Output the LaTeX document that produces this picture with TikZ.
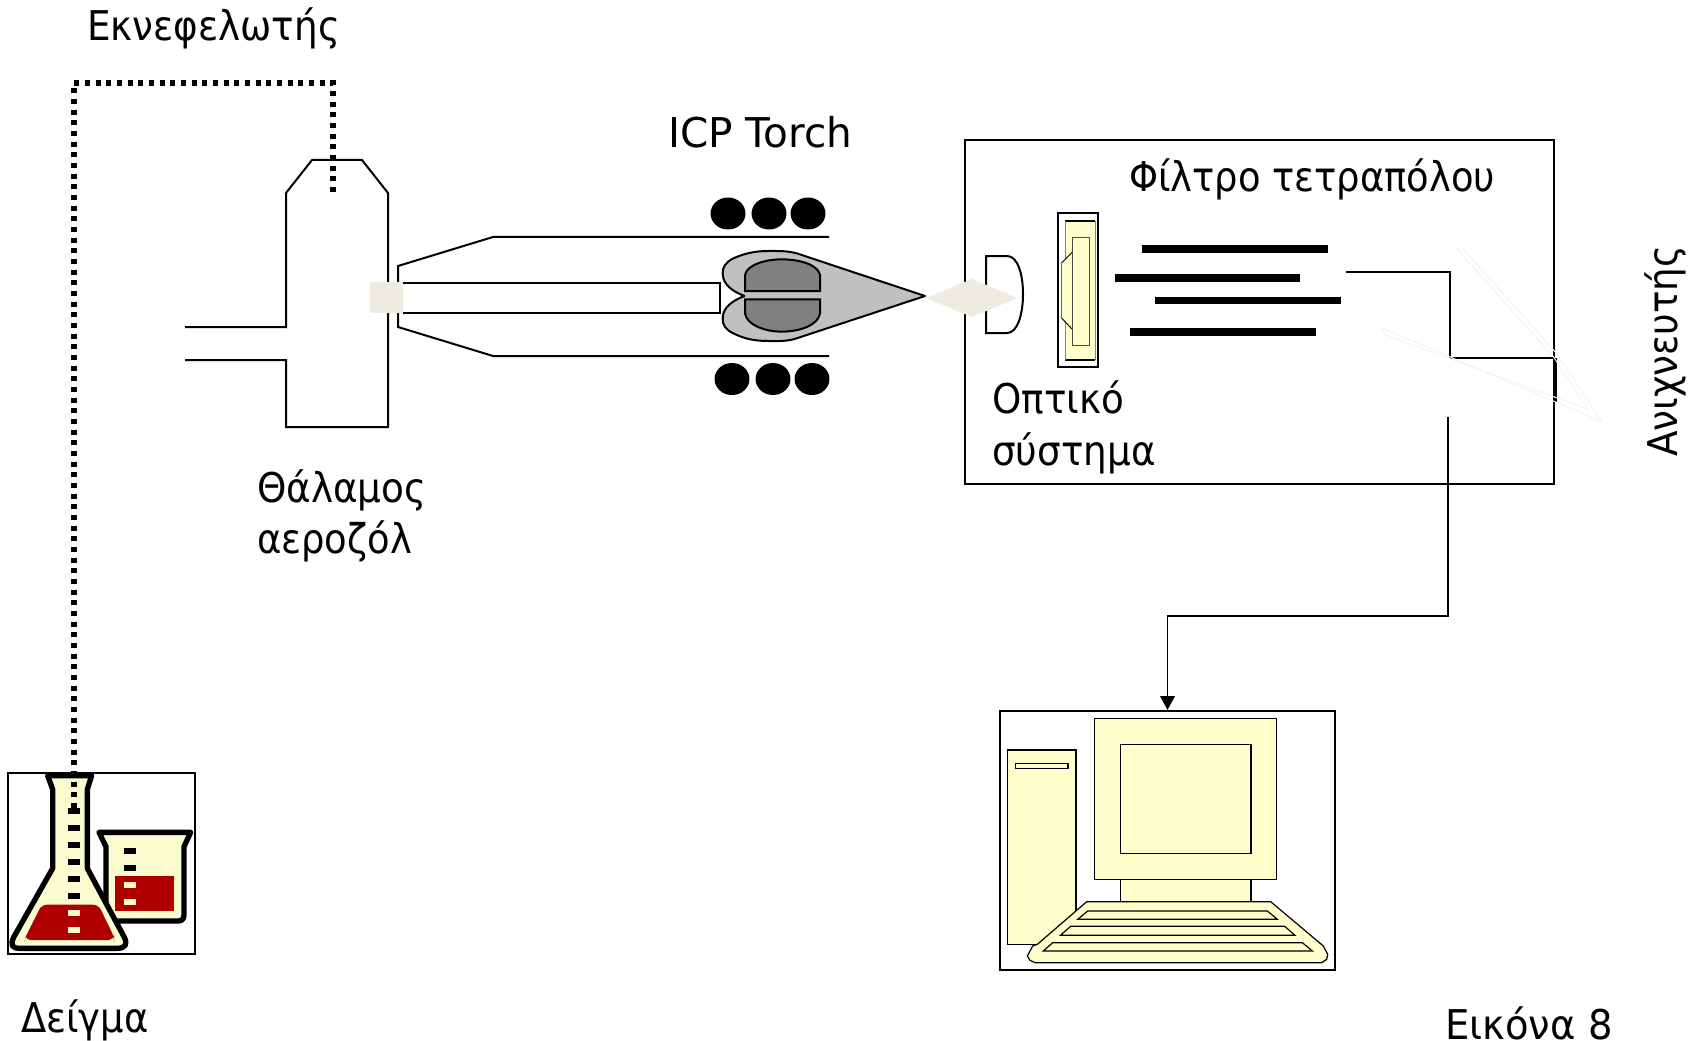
\documentclass[tikz,border=0pt]{standalone}
\usepackage{fontspec}
\setmainfont[FakeStretch=0.91]{DejaVu Sans}
\newfontfamily\widerfont[FakeStretch=0.94]{DejaVu Sans}
\newfontfamily\latinfont[FakeStretch=0.99]{DejaVu Sans}
\newfontfamily\tightfont[FakeStretch=0.90]{DejaVu Sans}
\usetikzlibrary{arrows.meta}
\definecolor{beige}{HTML}{EEECE1}
\definecolor{pale}{HTML}{FFFFCC}
\definecolor{flaskpale}{HTML}{FBFBD0}
\definecolor{liquid}{HTML}{AE0000}
\definecolor{plasma}{HTML}{C0C0C0}
\definecolor{core}{HTML}{808080}
\definecolor{faint}{HTML}{F4F4F4}
\tikzset{
  lbl/.style={anchor=base west,inner sep=0pt,font=\fontsize{30.75pt}{36pt}\selectfont},
  thin line/.style={line width=1.5pt,black},
  hair/.style={line width=1.1pt,black},
  dotline/.style={line width=4.2pt,black,dash pattern=on 3.8pt off 4.2pt},
  framebox/.style={draw=black,line width=1.5pt,fill=none,inner sep=0pt},
  bar/.style={fill=black,draw=none},
  coil/.style={fill=black,draw=none},
  part/.style={draw=black,line width=0.9pt,fill=pale},
  ghost/.style={draw=faint,line width=0.8pt},
}
\begin{document}
\begin{tikzpicture}[x=0.75pt,y=-0.75pt]
\useasboundingbox (0,0) rectangle (1701,1041);
\fill[white] (0,0) rectangle (1701,1041);

% spray chamber
\draw[thin line] (185,327)--(286,327)--(286,193)--(312,160)--(362,160)--(388,193)--(388,427)--(286,427)--(286,360)--(185,360);

% torch
\draw[thin line] (829,237)--(493,237)--(398,266)--(398,327)--(493,356)--(829,356);
\draw[thin line] (403,283)--(720,283)--(720,313)--(403,313);
\fill[beige] (370,282) rectangle (403,313);

% coils
\foreach \n/\cx/\cy in {a/728/213.5,b/769/213.5,c/808/213.5,d/732/379,e/773/379,f/812/379}
  \fill[coil] (\cx,\cy) ellipse [x radius=13.1pt,y radius=12pt];

% plasma
\begin{scope}[shift={(690,180)},x=0.25pt,y=-0.25pt]
\draw[thin line,fill=plasma,line join=round] (705,348)--(320,220)
  .. controls (290,212) and (265,213) .. (235,213)
  .. controls (190,213) and (160,222) .. (130,235)
  .. controls (105,248) and (98,262) .. (98,280)
  .. controls (98,315) and (130,335) .. (163,348)
  .. controls (130,361) and (98,381) .. (98,415)
  .. controls (98,435) and (105,448) .. (130,460)
  .. controls (160,475) and (190,483) .. (235,483)
  .. controls (265,483) and (290,485) .. (320,475)--cycle;
\draw[thin line,fill=core] (165,333)--(165,285)
  .. controls (170,255) and (225,238) .. (275,238)
  .. controls (330,238) and (385,255) .. (390,285)--(390,333)--cycle;
\draw[thin line,fill=core] (165,358)--(165,400)
  .. controls (170,435) and (225,455) .. (275,455)
  .. controls (330,455) and (385,435) .. (390,400)--(390,358)--cycle;
\end{scope}

% mass spectrometer box
\node[framebox,minimum width=442pt,minimum height=258pt,anchor=north west] (ms) at (964,139) {};

% lens D
\draw[thin line] (986,256)--(1007,256) .. controls (1018,256) and (1023,275) .. (1023,294)
  .. controls (1023,313) and (1018,333) .. (1007,333)--(986,333)--cycle;
% beige diamond
\fill[beige] (926,298)--(972,279)--(1017,298)--(972,317)--cycle;

% optics
\draw[thin line] (1058,213) rectangle (1098,367);
\fill[pale] (1065,221) rectangle (1095,360);
\draw[hair] (1065,221)--(1095,221);
\draw[hair] (1065,360)--(1095,360);
\draw[line width=0.4pt,black!50] (1065,221)--(1065,360) (1095,221)--(1095,360);
\fill[pale] (1061.5,263)--(1072,252.5)--(1072,329)--(1061.5,318)--cycle;
\draw[line width=0.7pt,black] (1072,252.5)--(1061.5,263);
\draw[line width=0.7pt,black] (1061.5,318)--(1072,329);
\draw[line width=0.5pt,black!60] (1061.5,263)--(1061.5,318);
\draw[line width=0.7pt,black!70] (1072,237) rectangle (1089,345);

% quadrupole bars
\fill[bar] (1141.5,245) rectangle (1327.5,253);
\fill[bar] (1114.5,274) rectangle (1299.5,282);
\fill[bar] (1154.5,297) rectangle (1340.5,304);
\fill[bar] (1130,328) rectangle (1315.5,336);

% detector path
\coordinate (d0) at (1346,272);
\coordinate (d1) at (1450,272);
\coordinate (d2) at (1450,358);
\coordinate (d3) at (1553,358);
\draw[thin line] (d0)--(d1)--(d2)--(d3);
\draw[line width=2.6pt,black] (ms.east |- d3)--(ms.east |- 0,402);
\begin{scope}[shift={(1340,220)},x=0.25pt,y=-0.25pt]
\draw[ghost] (352,88)--(640,410)--(745,568)--(135,345)--(122,322)--(785,605)--(645,395)--(365,82)--cycle;
\end{scope}

% computer
\node[framebox,minimum width=251.25pt,minimum height=194.25pt,anchor=north west] (pc) at (999,710) {};
\begin{scope}[shift={(980,691)},x=0.25pt,y=-0.25pt]
\draw[part] (82,177) rectangle (288,760);
\draw[part] (106,218) rectangle (264,232);
\draw[part] (421,565) rectangle (813,640);
\draw[part] (344,83) rectangle (889,565);
\draw[part] (421,161) rectangle (813,487);
\draw[part] (320,632)--(872,632)--(1030,765)--(1043,790)--(1040,805)--(1025,815)--(165,815)--(150,808)--(142,795)--(158,765)--(172,760)--cycle;
\draw[part] (323,660)--(862,660)--(892,685)--(293,685)--cycle;
\draw[part] (272,706)--(914,706)--(945,733)--(241,733)--cycle;
\draw[part] (218,755)--(967,755)--(997,780)--(190,780)--cycle;
\end{scope}

% connector to computer
\coordinate (d4) at (1448,417);
\draw[hair,-{Triangle[length=10.5pt,width=11pt]}] (d4)--(1448,616)--(pc.north |- 0,616)--(pc.north);

% flask and beaker
\node[framebox,minimum width=140.5pt,minimum height=135.5pt,anchor=north west] (smp) at (7,772.3) {};
\begin{scope}[shift={(0,740)},x=0.25pt,y=-0.25pt]
\draw[line width=4pt,black,fill=flaskpale,line join=round] (297,277)--(572,277)--(552,320)--(552,525)
  .. controls (552,537) and (545,543) .. (535,543)--(340,543)--(318,500)--(318,320)--cycle;
\fill[liquid] (345,408) rectangle (522,513);
\foreach \y in {333,384} \fill[black] (372,\y-9) rectangle (408,\y+9);
\foreach \y in {435,486} \fill[flaskpale] (372,\y-9) rectangle (408,\y+9);
\draw[line width=4pt,black,fill=flaskpale,line join=round] (143,107)--(275,107)--(262,148)--(262,385)--(372,590)
  .. controls (385,615) and (375,625) .. (350,625)--(60,625)
  .. controls (35,625) and (30,615) .. (42,590)--(158,385)--(158,148)--cycle;
\fill[liquid,rounded corners=4pt] (125,494)--(295,494)--(342,590)--(342,600)--(75,600)--(77,590)--cycle;
\foreach \y in {213,264,315,366,417,468} \fill[black] (204,\y-9) rectangle (240,\y+9);
\foreach \y in {519,570} \fill[flaskpale] (204,\y-9) rectangle (240,\y+9);
\end{scope}

% nebuliser line
\coordinate (n0) at (74,808);
\coordinate (n1) at (74,83);
\coordinate (n2) at (333,83);
\coordinate (n3) at (333,193);
\draw[dotline] (n0)--(n1)--(n2)--(n3);

% labels
\node[lbl] (t1) at (87,41) {Εκνεφελωτής};
\node[lbl] (t2) at (668,148) {\latinfont ICP Torch};
\node[lbl] (t3) at (257,502) {Θάλαμος};
\node[lbl] (t4) at (257,553) {\tightfont αεροζόλ};
\node[lbl] (t5) at (1129,192) {\tightfont Φίλτρο τετραπόλου};
\node[lbl] (t6) at (992,413) {Οπτικό};
\node[lbl] (t7) at (992,465) {σύστημα};
\node[lbl,rotate=90] (t8) at (1677,457) {Ανιχνευτής};
\node[lbl] (t9) at (21,1032) {\tightfont Δείγμα};
\node[lbl] (t10) at (1445,1039) {\widerfont Εικόνα 8};
\end{tikzpicture}
\end{document}
